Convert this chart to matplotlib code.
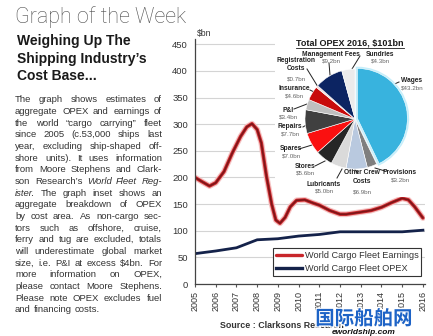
import matplotlib
matplotlib.use('Agg')
import matplotlib.pyplot as plt
import matplotlib.patheffects as pe
from matplotlib.patches import Rectangle

W, H = 433, 336

# earnings curve at irregular points ($bn)
earn_years = [2005.0, 2005.3, 2005.7, 2006.0, 2006.4, 2006.8, 2007.2, 2007.5, 2007.75,
              2008.0, 2008.2, 2008.45, 2008.7, 2008.9, 2009.1, 2009.35, 2009.6, 2009.9,
              2010.3, 2010.7, 2011.0, 2011.5, 2012.0, 2012.3, 2013.0, 2013.5, 2014.0,
              2014.5, 2015.0, 2015.3, 2015.6, 2016.0]
earn_vals = [200, 193, 184, 190, 211, 246, 277, 295, 301,
             290, 265, 202, 150, 120, 114, 125, 145, 157,
             158, 152, 148, 138, 131, 131, 135, 138, 144,
             153, 161, 158, 145, 124]

opex_years = list(range(2005, 2017))
opex_vals = [57, 62, 68, 83, 85, 90, 93, 98, 98, 98, 98, 101]

series_names = ['World Cargo Fleet Earnings', 'World Cargo Fleet OPEX']

# OPEX 2016 breakdown ($bn), clockwise from 12 o'clock
cost_names = ['Wages', 'Provisions', 'Other Crew\nCosts', 'Lubricants', 'Stores', 'Spares',
              'Repairs', 'P&I', 'Insurance', 'Registration\nCosts', 'Management Fees', 'Sundries']
cost_vals = [43.2, 3.2, 6.9, 5.0, 5.6, 7.0, 7.7, 3.4, 4.6, 0.7, 9.2, 4.3]
cost_colors = ['#38b3de', '#7f7f7f', '#b9c9df', '#dadada', '#262626', '#fa1010',
               '#404040', '#bfbfbf', '#c80b0b', '#f2dcdc', '#0c2462', '#ebebeb']

# label anchors (px) and leader lines (px) for the pie
label_pos = [(412, 81), (400, 173), (362, 177), (324, 184), (305, 166), (291, 149),
             (290, 127), (288, 110), (294, 89), (296, 64.5), (331, 54), (380, 54)]
leaders = [(399, 82, 390, 86), (385, 171, 375, 168), (358, 173, 355, 170),
           (337, 178, 342, 169), (315, 166, 325, 161), (299, 149, 312, 145),
           (303, 127, 308, 124), (294, 109, 307, 104), (310, 90, 316, 93),
           (307, 69, 318, 87), (329, 63, 330, 75), (360, 56, 352, 69)]

body_lines = [
    'The graph shows estimates of',
    'aggregate OPEX and earnings of',
    'the world \u201ccargo carrying\u201d fleet',
    'since 2005 (c.53,000 ships last',
    'year, excluding ship-shaped off-',
    'shore units). It uses information',
    'from Moore Stephens and Clark-',
    'son Research\u2019s *World* *Fleet* *Reg-*',
    '*ister*. The graph inset shows an',
    'aggregate breakdown of OPEX',
    'by cost area. As non-cargo sec-',
    'tors such as offshore, cruise,',
    'ferry and tug are excluded, totals',
    'will underestimate global market',
    'size, i.e. P&I at excess $4bn. For',
    'more information on OPEX,',
    'please contact Moore Stephens.',
    'Please note OPEX excludes fuel',
    'and financing costs.',
]

plt.rcParams['font.family'] = ['Liberation Sans', 'DejaVu Sans']

fig = plt.figure(figsize=(W / 100, H / 100), dpi=100)
fig.patch.set_facecolor('white')

# ---- main line chart
ax = fig.add_axes([195 / W, 1 - 284 / H, 230 / W, 245 / H], zorder=1)
ax.set_xlim(2005, 2016.1)
ax.set_ylim(0, 460)
ax.set_yticks(range(0, 451, 50))
ax.set_xticks(opex_years)
ax.set_xticklabels([str(y) for y in opex_years], rotation=90, fontsize=6.5, color='#333333')
ax.tick_params(axis='y', length=0, pad=5, labelsize=6.8, labelcolor='#333333')
ax.tick_params(axis='x', length=2, pad=3, color='#555555')
ax.grid(axis='y', color='#d4d4d4', lw=0.8)
ax.set_axisbelow(True)
for s in ['top', 'right']:
    ax.spines[s].set_visible(False)
for s in ['left', 'bottom']:
    ax.spines[s].set_color('#444444')
    ax.spines[s].set_linewidth(0.9)

red, = ax.plot(earn_years, earn_vals, color='#7d1518', lw=1.2, label=series_names[0],
               solid_capstyle='round', solid_joinstyle='round',
               path_effects=[pe.Stroke(linewidth=4.2, foreground='#f5c4c4'),
                             pe.Stroke(linewidth=2.5, foreground='#cc2a2e'),
                             pe.Normal()])
navy, = ax.plot(opex_years, opex_vals, color='#14224a', lw=2.0, label=series_names[1])
ax.text(2005.1, 462, '$bn', fontsize=6.2, color='#333333', va='bottom', ha='left')

leg = ax.legend(loc='upper left', bbox_to_anchor=(273 / W, 1 - 248 / H),
                bbox_transform=fig.transFigure, fontsize=6.6, frameon=True,
                fancybox=False, framealpha=1, borderaxespad=0, borderpad=0.3,
                handlelength=2.9, handletextpad=0.25, labelspacing=0.45)
leg.get_frame().set_edgecolor('#333333')
leg.get_frame().set_linewidth(0.8)
for t in leg.get_texts():
    t.set_color('#333333')
for h in leg.get_lines():
    h.set_linewidth(2.4)
    h.set_path_effects([])
leg.get_lines()[0].set_color('#c8262b')

# ---- overlay in pixel coordinates
ov = fig.add_axes([0, 0, 1, 1], zorder=2)
ov.set_xlim(0, W)
ov.set_ylim(H, 0)
ov.axis('off')
ov.patch.set_visible(False)
ov.add_patch(Rectangle((275, 30), W - 275, 167, facecolor='white', edgecolor='none', zorder=0))

ov.text(15, 17, 'Graph of the Week', fontsize=15.5, family=['Roboto', 'Liberation Sans'],
        fontweight='light', color='#4d4d4d', va='center', ha='left')
for i, line in enumerate(['Weighing Up The', 'Shipping Industry\u2019s', 'Cost Base...']):
    ov.text(17, 41 + i * 17.6, line, fontsize=10, fontweight='bold', color='#1a1a1a',
            va='center', ha='left')

renderer = fig.canvas.get_renderer()
x0, x1, y0, dy = 15, 162, 100, 11.65
for i, line in enumerate(body_lines):
    objs = []
    for w in line.split(' '):
        st = 'italic' if '*' in w else 'normal'
        objs.append(ov.text(0, y0 + i * dy, w.replace('*', ''), fontsize=6.8, fontstyle=st,
                            color='#333333', va='center', ha='left'))
    widths = [o.get_window_extent(renderer).width for o in objs]
    if i == len(body_lines) - 1:
        gap = 2.7
    else:
        gap = (x1 - x0 - sum(widths)) / (len(objs) - 1)
    x = x0
    for o, wd in zip(objs, widths):
        o.set_x(x)
        x += wd + gap

# pie title, underlined
ttl = ov.text(350, 43, 'Total OPEX 2016, $101bn', fontsize=6.5, fontweight='bold',
              color='#1a1a1a', va='center', ha='center')
bb = ttl.get_window_extent(renderer)
ov.plot([bb.x0, bb.x1], [47.5, 47.5], color='#1a1a1a', lw=0.6)

for (lx, ly), name, v in zip(label_pos, cost_names, cost_vals):
    n = name.count('\n') + 1
    ov.text(lx, ly, name, fontsize=4.8, fontweight='bold', color='#222222',
            va='center', ha='center', linespacing=1.25)
    ov.text(lx, ly + 7.3 * n, f'${v:.1f}bn', fontsize=4.5, color='#666666',
            va='center', ha='center')
for xa, ya, xb, yb in leaders:
    ov.plot([xa, xb], [ya, yb], color='#222222', lw=0.7)

ov.text(220, 325, 'Source : Clarksons Research', fontsize=6.4, fontweight='bold',
        color='#333333', va='center', ha='left')
ov.text(364, 319, '国际船舶网', fontsize=14, fontweight='bold', color='#1d63c6',
        family=['Noto Sans CJK SC', 'DejaVu Sans'], va='center', ha='center',
        path_effects=[pe.withStroke(linewidth=2, foreground='white')])
ov.text(364, 333, 'eworldship.com', fontsize=6, fontweight='bold', fontstyle='italic',
        color='#111111', va='center', ha='center')

# ---- pie inset
pa = fig.add_axes([305 / W, 1 - 169 / H, 100 / W, 100 / H], zorder=3)
wedges, _ = pa.pie(cost_vals, colors=cost_colors, startangle=90, counterclock=False,
                   explode=[0.05] + [0] * (len(cost_vals) - 1),
                   wedgeprops=dict(edgecolor='white', linewidth=0.4))
for w in wedges:
    w.set_clip_on(False)
wedges[0].set_path_effects([pe.Stroke(linewidth=2.5, foreground='#c6eefa'), pe.Normal()])
pa.set_xlim(-1, 1)
pa.set_ylim(-1, 1)
pa.set_aspect('equal')
pa.axis('off')

fig.savefig('out.png', dpi=100, facecolor='white')
